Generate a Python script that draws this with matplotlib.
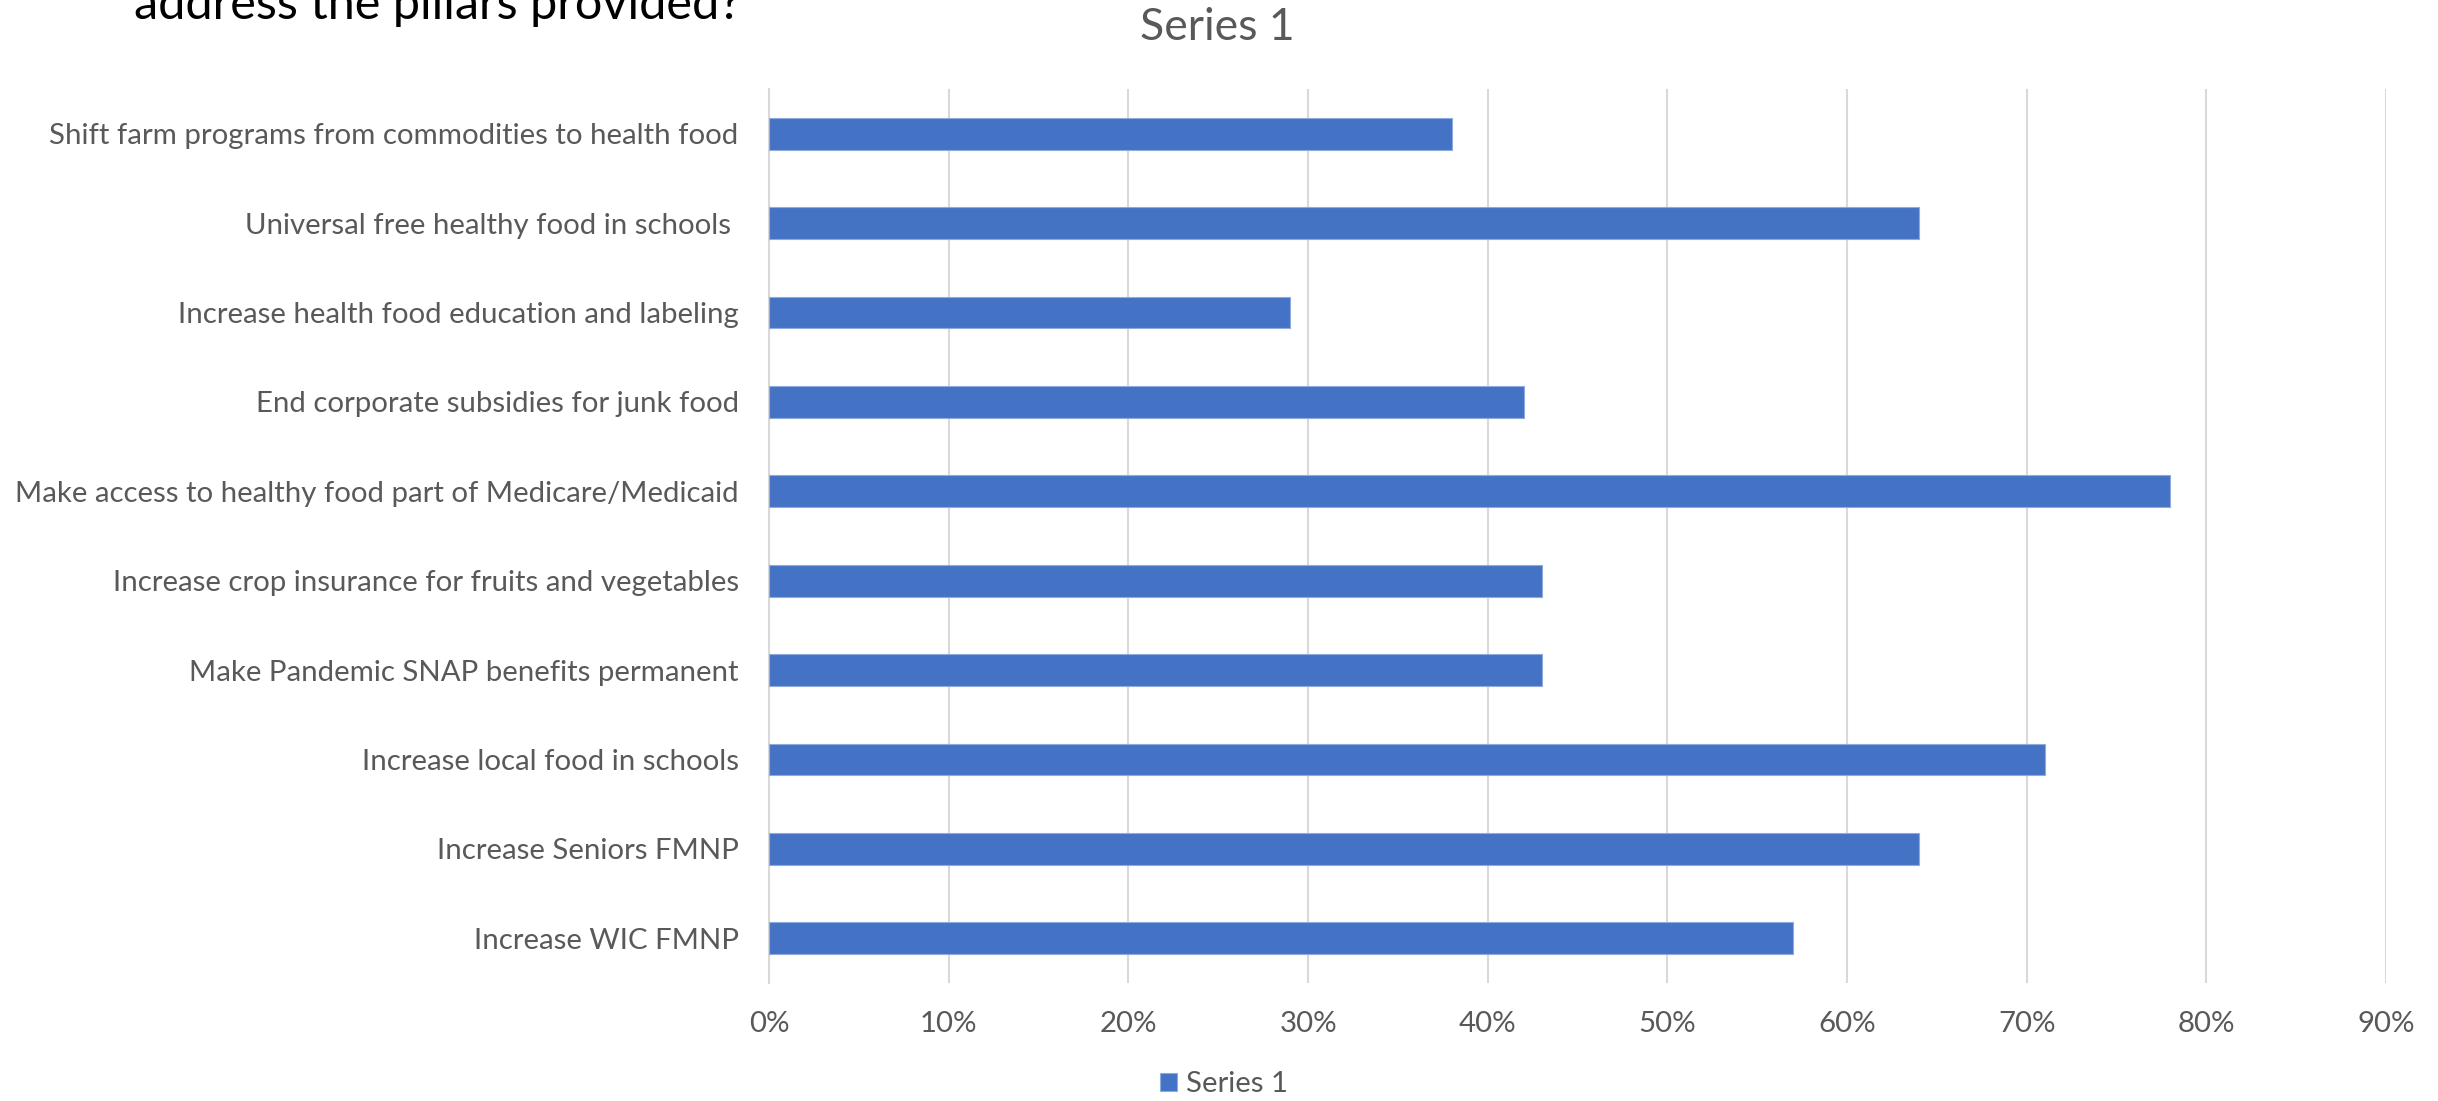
import matplotlib.pyplot as plt
from matplotlib.ticker import PercentFormatter

# categories listed top to bottom as shown in the chart
categories = [
    'Shift farm programs from commodities to health food',
    'Universal free healthy food in schools ',
    'Increase health food education and labeling',
    'End corporate subsidies for junk food',
    'Make access to healthy food part of Medicare/Medicaid',
    'Increase crop insurance for fruits and vegetables',
    'Make Pandemic SNAP benefits permanent',
    'Increase local food in schools',
    'Increase Seniors FMNP',
    'Increase WIC FMNP',
]
series_1 = [0.38, 0.64, 0.29, 0.42, 0.78, 0.43, 0.43, 0.71, 0.64, 0.57]
x_ticks = [0, 0.1, 0.2, 0.3, 0.4, 0.5, 0.6, 0.7, 0.8, 0.9]

bar_color = '#4472C4'
text_gray = '#595959'
font = 'Lato'

fig = plt.figure(figsize=(24.38, 11.01), dpi=100)
ax = fig.add_axes([0.3155, 0.1072, 0.6632, 0.812])

positions = list(range(len(categories)))
ax.barh(positions, series_1, height=0.355, color=bar_color,
        edgecolor='#8FAADC', linewidth=0.8, label='Series 1', zorder=3)

ax.set_ylim(len(categories) - 0.5, -0.5)
ax.set_xlim(0, 0.9)
ax.set_xticks(x_ticks)
ax.xaxis.set_major_formatter(PercentFormatter(1.0, decimals=0))
ax.set_yticks(positions)
ax.set_yticklabels(categories)

for s in ['top', 'right', 'bottom']:
    ax.spines[s].set_visible(False)
ax.spines['left'].set_color('#D9D9D9')
ax.spines['left'].set_linewidth(1.5)
ax.grid(axis='x', color='#D9D9D9', linewidth=1.5, zorder=0)
ax.tick_params(axis='both', length=0, labelsize=21.2, labelcolor=text_gray)
ax.tick_params(axis='y', pad=22)
ax.tick_params(axis='x', pad=20)
for lbl in ax.get_xticklabels() + ax.get_yticklabels():
    lbl.set_fontfamily(font)

fig.text(0.4995, 1 - 27 / 1101, 'Series 1', ha='center', va='center',
         fontsize=32, color=text_gray, family=font)
# title from the slide, cut off by the top edge (as in the reference)
fig.text(134 / 2438, 1 - 19 / 1101, 'address the pillars provided?', ha='left',
         va='baseline', fontsize=35, color='black', family=font)

fig.legend(loc='center', bbox_to_anchor=(0.502, 0.015), frameon=False,
           prop={'family': font, 'size': 21.2}, labelcolor=text_gray,
           handlelength=0.6, handleheight=0.6, handletextpad=0.3)

fig.savefig('out.png', dpi=100)
